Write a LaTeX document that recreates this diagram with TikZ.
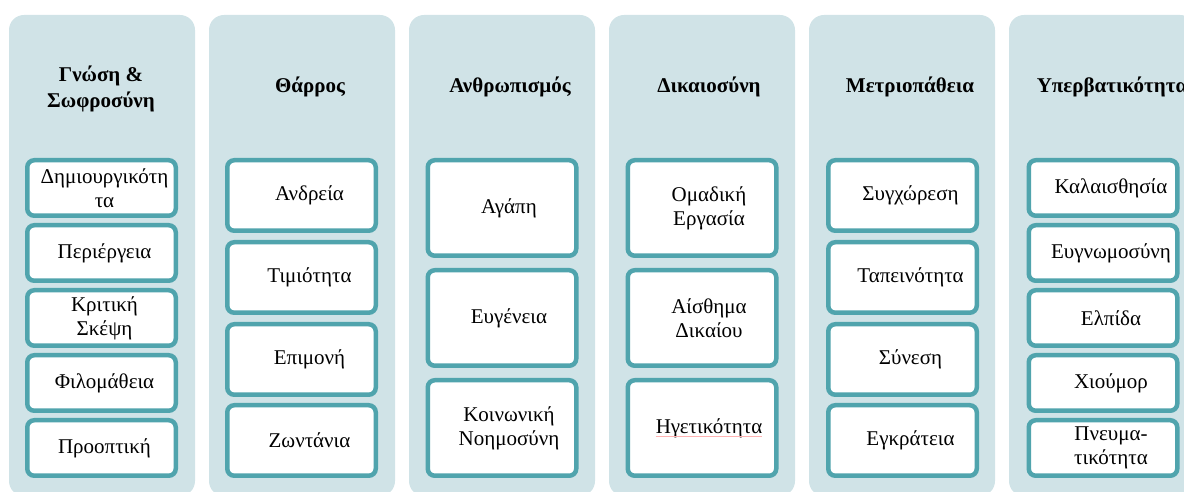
\documentclass[tikz,border=0pt]{standalone}
\usepackage{fontspec}
\setmainfont{Liberation Serif}
\definecolor{colbg}{HTML}{D0E3E7}
\definecolor{cellrim}{HTML}{50A4AD}

\begin{document}
\begin{tikzpicture}[
  x=1pt,y=1pt,
  column/.style={fill=colbg,rounded corners=15pt},
  cell/.style={draw=cellrim,line width=4.5pt,fill=white,rounded corners=7pt,
    minimum width=148.5pt,inner sep=0pt},
  head/.style={font=\fontsize{21}{26}\selectfont\bfseries,align=center,inner sep=0pt},
  word/.style={font=\fontsize{21}{24}\selectfont,align=center,inner sep=0pt}
]
  \useasboundingbox (0,0) rectangle (1184,492);
  \clip (0,0) rectangle (1184,492);

  % Six shaded columns.
  \foreach \i in {0,...,5}
    \fill[column] (9+200*\i,-4) rectangle (195+200*\i,477);

  % Column headings.
  \node[head] (h1) at (101,403) {Γνώση \&\\Σωφροσύνη};
  \node[head] (h2) at (310,405) {Θάρρος};
  \node[head] (h3) at (510,405) {Ανθρωπισμός};
  \node[head] (h4) at (709,405) {Δικαιοσύνη};
  \node[head] (h5) at (910,405) {Μετριοπάθεια};
  \node[head] (h6) at (1112,405) {Υπερβατικότητα};

  % Column 1: five short cells.
  \foreach \y/\t [count=\k] in {304/{Δημιουργικότη\\τα},239/Περιέργεια,
      174/{Κριτική\\Σκέψη},109/Φιλομάθεια,44/Προοπτική} {
    \node[cell,minimum height=55.5pt] (g\k) at (101.5,\y) {};
    \node[word] (gl\k) at ([xshift=3pt]g\k.center) {\t};
  }

  % Column 2: four cells.
  \foreach \y/\t [count=\k] in {296.5/Ανδρεία,214.5/Τιμιότητα,132.5/Επιμονή,
      51.5/Ζωντάνια} {
    \node[cell,minimum height=70.5pt] (t\k) at (301.5,\y) {};
    \node[word] (tl\k) at ([xshift=8pt]t\k.center) {\t};
  }

  % Column 3: three tall cells.
  \foreach \y/\t [count=\k] in {284/Αγάπη,174/Ευγένεια,64/{Κοινωνική\\Νοημοσύνη}} {
    \node[cell,minimum height=95.5pt] (a\k) at (502,\y) {};
    \node[word] (al\k) at ([xshift=7pt]a\k.center) {\t};
  }

  % Column 4: three tall cells.
  \foreach \y/\t [count=\k] in {284/{Ομαδική\\Εργασία},174/{Αίσθημα\\Δικαίου},
      64/Ηγετικότητα} {
    \node[cell,minimum height=95.5pt] (d\k) at (702,\y) {};
    \node[word] (dl\k) at ([xshift=7pt]d\k.center) {\t};
  }
  \draw[red!30,line width=0.6pt] ([yshift=-3pt]dl3.base west) -- ([yshift=-3pt]dl3.base east);

  % Column 5: four cells.
  \foreach \y/\t [count=\k] in {296.5/Συγχώρεση,214.5/Ταπεινότητα,132.5/Σύνεση,
      51.5/Εγκράτεια} {
    \node[cell,minimum height=70.5pt] (m\k) at (902.5,\y) {};
    \node[word] (ml\k) at ([xshift=8pt]m\k.center) {\t};
  }

  % Column 6: five short cells.
  \foreach \y/\t [count=\k] in {304/Καλαισθησία,239/Ευγνωμοσύνη,174/Ελπίδα,
      109/Χιούμορ,44/{Πνευμα-\\τικότητα}} {
    \node[cell,minimum height=55.5pt] (u\k) at (1103,\y) {};
    \node[word] (ul\k) at ([xshift=8pt]u\k.center) {\t};
  }
\end{tikzpicture}
\end{document}
